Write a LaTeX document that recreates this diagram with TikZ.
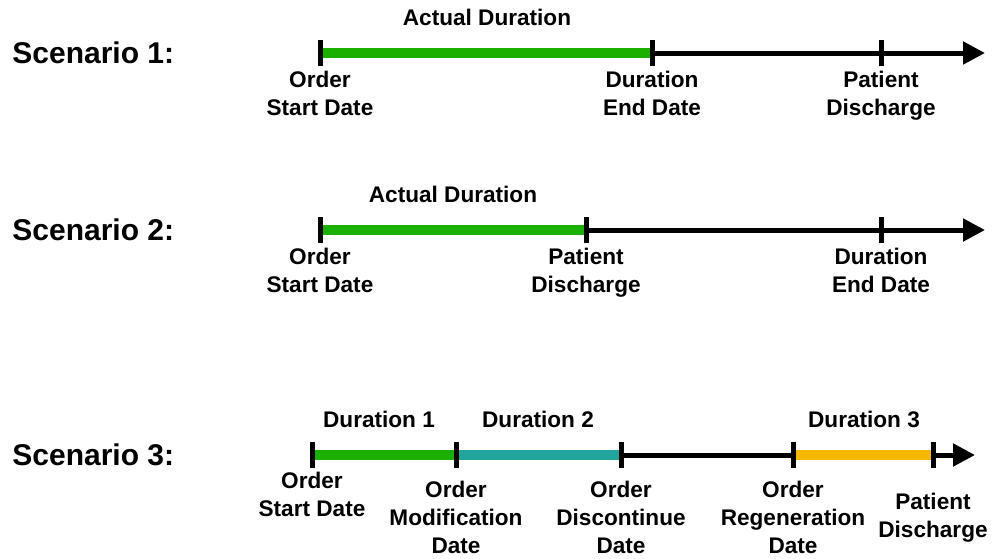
\documentclass[tikz,border=0pt]{standalone}
\usepackage{fontspec}
\setmainfont{Liberation Sans}
\usetikzlibrary{arrows.meta}
\definecolor{durgreen}{HTML}{1BAF00}
\definecolor{durteal}{HTML}{22A59B}
\definecolor{duryellow}{HTML}{F5B800}

\tikzset{
  scen/.style={anchor=west,inner sep=0,font=\bfseries\fontsize{15}{18}\selectfont},
  lbl/.style={anchor=north,align=center,inner sep=0,font=\bfseries\fontsize{11.3}{14}\selectfont},
  dur/.style={inner sep=0,font=\bfseries\fontsize{11.3}{14}\selectfont},
  timeline/.style={line width=2.5pt,-{Triangle[length=11pt,width=11pt]}},
  bar/.style={line width=5pt},
  tickmark/.style={line width=2.5pt}
}

\begin{document}
\begin{tikzpicture}[x=0.5pt,y=-0.5pt]
  \useasboundingbox (0,0) rectangle (992,558);

  % scenario 1
  \node[scen] (sc1) at (12,53) {Scenario 1:};
  \coordinate (s1a) at (320,53);
  \coordinate (s1b) at (652,53);
  \coordinate (s1c) at (881,53);
  \coordinate (s1end) at (985,53);
  \draw[timeline] (s1a) -- (s1end);
  \draw[bar,durgreen] (s1a) -- (s1b);
  \node[dur] (d1) at (487,17) {Actual Duration};
  \node[lbl] (l1a) at (320,71) {Order\\Start Date};
  \node[lbl] (l1b) at (652,71) {Duration\\End Date};
  \node[lbl] (l1c) at (881,71) {Patient\\Discharge};

  % scenario 2
  \node[scen] (sc2) at (12,230) {Scenario 2:};
  \coordinate (s2a) at (320,230);
  \coordinate (s2b) at (586,230);
  \coordinate (s2c) at (881,230);
  \coordinate (s2end) at (985,230);
  \draw[timeline] (s2a) -- (s2end);
  \draw[bar,durgreen] (s2a) -- (s2b);
  \node[dur] (d2) at (453,194) {Actual Duration};
  \node[lbl] (l2a) at (320,248) {Order\\Start Date};
  \node[lbl] (l2b) at (586,248) {Patient\\Discharge};
  \node[lbl] (l2c) at (881,248) {Duration\\End Date};

  % scenario 3
  \node[scen] (sc3) at (12,455) {Scenario 3:};
  \coordinate (s3a) at (312,455);
  \coordinate (s3b) at (456,455);
  \coordinate (s3c) at (621,455);
  \coordinate (s3d) at (793,455);
  \coordinate (s3e) at (933,455);
  \coordinate (s3end) at (975,455);
  \draw[timeline] (s3a) -- (s3end);
  \draw[bar,durgreen] (s3a) -- (s3b);
  \draw[bar,durteal] (s3b) -- (s3c);
  \draw[bar,duryellow] (s3d) -- (s3e);
  \node[dur] (d31) at (379,419) {Duration 1};
  \node[dur] (d32) at (538,419) {Duration 2};
  \node[dur] (d33) at (864,419) {Duration 3};
  \node[lbl] (l3a) at (312,472) {Order\\Start Date};
  \node[lbl] (l3b) at (456,481) {Order\\Modification\\Date};
  \node[lbl] (l3c) at (621,481) {Order\\Discontinue\\Date};
  \node[lbl] (l3d) at (793,481) {Order\\Regeneration\\Date};
  \node[lbl] (l3e) at (933,493) {Patient\\Discharge};

  % ticks
  \foreach \p in {s1a,s1b,s1c,s2a,s2b,s2c,s3a,s3b,s3c,s3d,s3e}
    \draw[tickmark] (\p) ++(0,-13) -- ++(0,26);
\end{tikzpicture}
\end{document}
